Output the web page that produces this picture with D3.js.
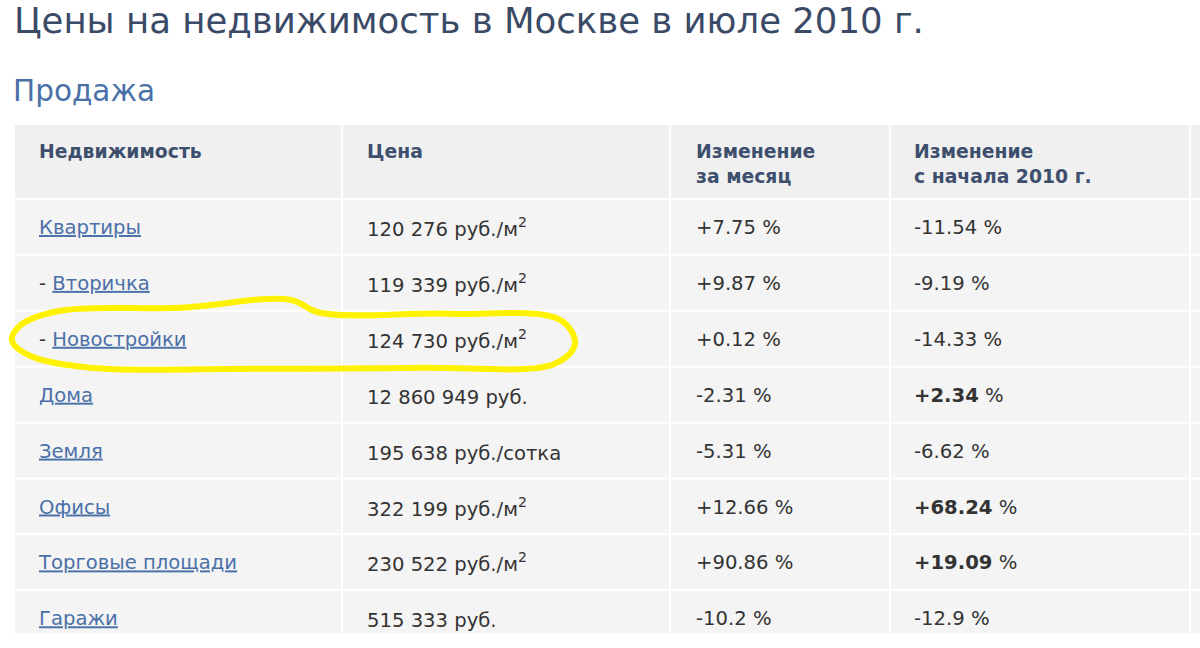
<!DOCTYPE html>
<html><head><meta charset="utf-8">
<script src="https://cdn.jsdelivr.net/npm/d3@7"></script>
<style>body{margin:0;background:#fff}svg{display:block}</style>
</head><body><svg id="c" width="1200" height="648"></svg>
<script>
const title = "Цены на недвижимость в Москве в июле 2010 г.";
const subtitle = "Продажа";
const headers = [["Недвижимость"],["Цена"],["Изменение","за месяц"],["Изменение","с начала 2010 г."]];
const names = ["Квартиры","Вторичка","Новостройки","Дома","Земля","Офисы","Торговые площади","Гаражи"];
const subRow = [false,true,true,false,false,false,false,false];
const prices = ["120 276","119 339","124 730","12 860 949","195 638","322 199","230 522","515 333"];
const units = ["руб./м²","руб./м²","руб./м²","руб.","руб./сотка","руб./м²","руб./м²","руб."];
const monthChange = ["+7.75","+9.87","+0.12","-2.31","-5.31","+12.66","+90.86","-10.2"];
const yearChange = ["-11.54","-9.19","-14.33","+2.34","-6.62","+68.24","+19.09","-12.9"];
const yearBold = [false,false,false,true,false,true,true,false];
const highlightRow = 2;

const svg = d3.select("#c");
const F = "'DejaVu Sans', Verdana, sans-serif";
const FS = 19.6;
svg.append("text").attr("x",14).attr("y",33).attr("font-family",F).attr("font-size",35.5).attr("fill","#3b4a66").text(title);
svg.append("text").attr("x",13).attr("y",101).attr("font-family",F).attr("font-size",29.5).attr("fill","#4a70a8").text(subtitle);

const colEdges = [15,343,671,891,1191,1260];
const textX = [39,367,696,914];
const headTop = 125, headH = 73, rowH = 55.9, gap = 2;
const y = d3.scaleBand().domain(d3.range(names.length)).range([headTop+headH+gap, headTop+headH+gap+rowH*names.length]).paddingInner(0);

for(let c=0;c<5;c++){
  svg.append("rect").attr("x",colEdges[c]).attr("y",headTop).attr("width",colEdges[c+1]-colEdges[c]-gap).attr("height",headH).attr("fill","#f0f0f0");
}
headers.forEach((h,i)=>{
  const t = svg.append("text").attr("font-family",F).attr("font-size",18.8).attr("font-weight","bold").attr("fill","#3d4f6d");
  h.forEach((line,j)=>t.append("tspan").attr("x",textX[i]).attr("y",158+j*25).text(line));
});
const rows = svg.selectAll("g.row").data(names).join("g").attr("transform",(d,i)=>`translate(0,${y(i)})`);
for(let c=0;c<5;c++){
  rows.append("rect").attr("x",colEdges[c]).attr("y",0).attr("width",colEdges[c+1]-colEdges[c]-gap)
    .attr("height",(d,i)=> i===names.length-1 ? 42 : rowH-gap).attr("fill","#f4f4f4");
}
const base = 34;
rows.each(function(d,i){
  const g = d3.select(this);
  const t = g.append("text").attr("x",textX[0]).attr("y",base).attr("font-family",F).attr("font-size",FS).attr("fill","#333");
  if(subRow[i]) t.append("tspan").text("- ");
  t.append("tspan").attr("fill","#4a70a8").attr("text-decoration","underline").text(d);
  const p = g.append("text").attr("x",textX[1]).attr("y",base+2).attr("font-family",F).attr("font-size",FS).attr("fill","#333");
  const u = units[i];
  if(u.endsWith("²")){
    p.append("tspan").text(prices[i]+" "+u.slice(0,-1));
    p.append("tspan").attr("font-size",14).attr("dy",-9).text("2");
  } else p.text(prices[i]+" "+u);
  g.append("text").attr("x",textX[2]).attr("y",base).attr("font-family",F).attr("font-size",FS).attr("fill","#333").text(monthChange[i]+" %");
  const yt = g.append("text").attr("x",textX[3]).attr("y",base).attr("font-family",F).attr("font-size",FS).attr("fill","#333");
  yt.append("tspan").attr("font-weight",yearBold[i]?"bold":"normal").text(yearChange[i]);
  yt.append("tspan").text(" %");
});

const cy = y(highlightRow) + rowH/2 - 4;
const pts = [[20,cy-10],[60,cy-25],[180,cy-28],[290,cy-36],[320,cy-23],[450,cy-22],[560,cy-16],[575,cy+8],[555,cy+28],[420,cy+32],[250,cy+33],[90,cy+32],[30,cy+20],[12,cy+5]];
svg.append("path").attr("d",d3.line().curve(d3.curveCatmullRomClosed)(pts))
  .attr("fill","none").attr("stroke","#fff200").attr("stroke-width",6).attr("stroke-linejoin","round");
</script></body></html>
